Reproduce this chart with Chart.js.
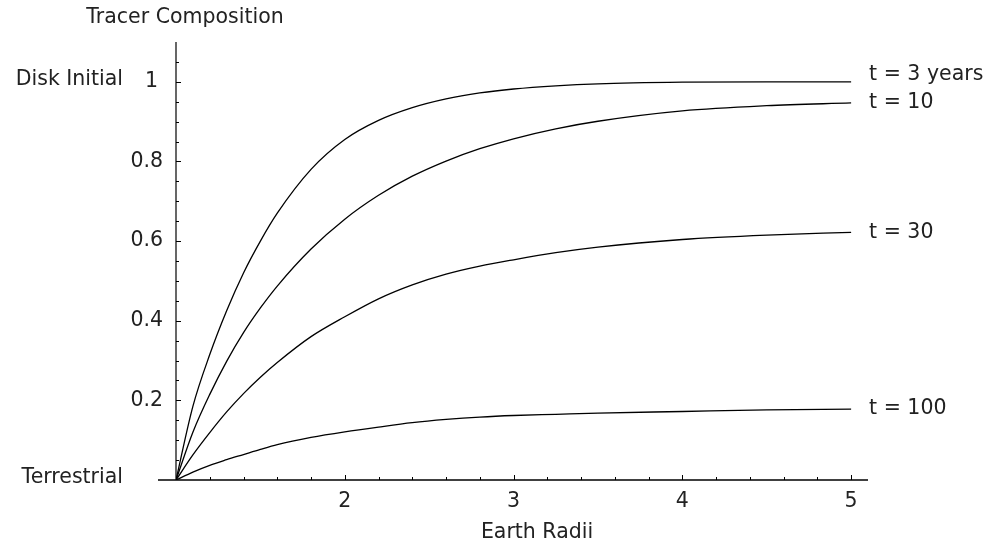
<!DOCTYPE html>
<html>
<head>
<meta charset="utf-8">
<script src="https://cdn.jsdelivr.net/npm/chart.js@4/dist/chart.umd.min.js"></script>
<style>
  html, body { margin: 0; padding: 0; background: #fff; }
  #caja { width: 990px; height: 542px; position: relative; }
</style>
</head>
<body>
<div id="caja"><canvas id="grafico"></canvas></div>
<script>
// Composición del trazador frente al radio (en radios terrestres), una curva por tiempo.
const radios = [1, 1.1, 1.2, 1.3, 1.4, 1.5, 1.6, 1.8, 2.0, 2.2, 2.4, 2.6, 2.8, 3.0, 3.25, 3.5, 4.0, 4.5, 5.0];

const t3   = [0, 0.185, 0.315, 0.425, 0.52, 0.6, 0.67, 0.78, 0.855, 0.903, 0.935, 0.957, 0.972, 0.982, 0.99, 0.995, 0.999, 1.0, 1.0];
const t10  = [0, 0.12, 0.215, 0.298, 0.37, 0.432, 0.487, 0.58, 0.655, 0.715, 0.763, 0.801, 0.832, 0.857, 0.882, 0.901, 0.927, 0.94, 0.947];
const t30  = [0, 0.063, 0.119, 0.171, 0.217, 0.258, 0.295, 0.36, 0.41, 0.455, 0.49, 0.517, 0.537, 0.553, 0.571, 0.585, 0.604, 0.615, 0.622];
const t100 = [0, 0.02, 0.037, 0.051, 0.064, 0.077, 0.089, 0.107, 0.121, 0.133, 0.144, 0.152, 0.158, 0.162, 0.165, 0.168, 0.172, 0.176, 0.178];

const etiquetasSeries = ["t = 3 years", "t = 10", "t = 30", "t = 100"];

const ticksX = [2, 3, 4, 5];
const ticksY = [0.2, 0.4, 0.6, 0.8, 1];
const ticksY_txt = ["0.2", "0.4", "0.6", "0.8", "1"];
const menoresX = [1.2, 1.4, 1.6, 1.8, 2.2, 2.4, 2.6, 2.8, 3.2, 3.4, 3.6, 3.8, 4.2, 4.4, 4.6, 4.8];
const menoresY = [0.05, 0.1, 0.15, 0.25, 0.3, 0.35, 0.45, 0.5, 0.55, 0.65, 0.7, 0.75, 0.85, 0.9, 0.95, 1.05];

const FUENTE = '20.5px "DejaVu Sans", Verdana, sans-serif';
const TINTA = "#222";

function puntos(valores) {
  return radios.map((x, i) => ({ x, y: valores[i] }));
}

// Ejes estilo Mathematica: marcas hacia dentro, sin etiqueta en el origen.
const ejesPlugin = {
  id: "ejes",
  beforeDatasetsDraw(chart) {
    const { ctx, scales: { x, y } } = chart;
    const x0 = x.getPixelForValue(1);
    const y0 = y.getPixelForValue(0);
    ctx.save();
    ctx.strokeStyle = "#000";
    ctx.lineWidth = 1.6;
    ctx.beginPath();
    ctx.moveTo(x0 - 18, y0);
    ctx.lineTo(x.getPixelForValue(5.1), y0);
    ctx.stroke();
    ctx.lineWidth = 1.2;
    ctx.beginPath();
    ctx.moveTo(x0, y.getPixelForValue(1.1));
    ctx.lineTo(x0, y0);
    ctx.stroke();

    ctx.lineWidth = 1;
    ctx.beginPath();
    ticksX.forEach((v) => { const p = Math.round(x.getPixelForValue(v)) + 0.5; ctx.moveTo(p, y0); ctx.lineTo(p, y0 - 5); });
    menoresX.forEach((v) => { const p = Math.round(x.getPixelForValue(v)) + 0.5; ctx.moveTo(p, y0); ctx.lineTo(p, y0 - 3); });
    ticksY.forEach((v) => { const p = Math.round(y.getPixelForValue(v)) + 0.5; ctx.moveTo(x0, p); ctx.lineTo(x0 + 5, p); });
    menoresY.forEach((v) => { const p = Math.round(y.getPixelForValue(v)) + 0.5; ctx.moveTo(x0, p); ctx.lineTo(x0 + 3, p); });
    ctx.stroke();
    ctx.restore();
  },
  afterDraw(chart) {
    const { ctx, scales: { x, y } } = chart;
    const x0 = x.getPixelForValue(1);
    ctx.save();
    ctx.fillStyle = TINTA;
    ctx.font = FUENTE;

    ctx.textAlign = "center";
    ctx.textBaseline = "middle";
    ticksX.forEach((v) => ctx.fillText(String(v), x.getPixelForValue(v), 502));

    ctx.textAlign = "right";
    ticksY.forEach((v, i) => {
      const dx = ticksY_txt[i] === "1" ? -5 : 0;
      ctx.fillText(ticksY_txt[i], x0 - 13 + dx, y.getPixelForValue(v));
    });

    ctx.fillText("Disk Initial", 123, y.getPixelForValue(1) - 2);
    ctx.fillText("Terrestrial", 123, y.getPixelForValue(0) - 2);

    ctx.textAlign = "center";
    ctx.fillText("Tracer Composition", 185, 18);
    ctx.fillText("Earth Radii", 537, 533);

    // Etiqueta de cada curva junto a su último punto
    ctx.textAlign = "left";
    chart.data.datasets.forEach((ds, i) => {
      const ult = ds.data[ds.data.length - 1];
      const dy = i === 0 ? -7 : 0;
      ctx.fillText(etiquetasSeries[i], x.getPixelForValue(ult.x) + 18, y.getPixelForValue(ult.y) + dy);
    });
    ctx.restore();
  },
};

const serie = (label, valores) => ({
  label,
  data: puntos(valores),
  borderColor: "#000",
  borderWidth: 1.3,
  pointRadius: 0,
  fill: false,
  cubicInterpolationMode: "monotone",
});

new Chart(document.getElementById("grafico"), {
  type: "line",
  data: {
    datasets: [
      serie(etiquetasSeries[0], t3),
      serie(etiquetasSeries[1], t10),
      serie(etiquetasSeries[2], t30),
      serie(etiquetasSeries[3], t100),
    ],
  },
  options: {
    responsive: true,
    maintainAspectRatio: false,
    animation: false,
    layout: { padding: { left: 176, right: 122, top: 42, bottom: 62 } },
    plugins: { legend: { display: false }, tooltip: { enabled: false } },
    scales: {
      x: { type: "linear", min: 1, max: 5.1, display: false },
      y: { type: "linear", min: 0, max: 1.1, display: false },
    },
  },
  plugins: [ejesPlugin],
});
</script>
</body>
</html>
